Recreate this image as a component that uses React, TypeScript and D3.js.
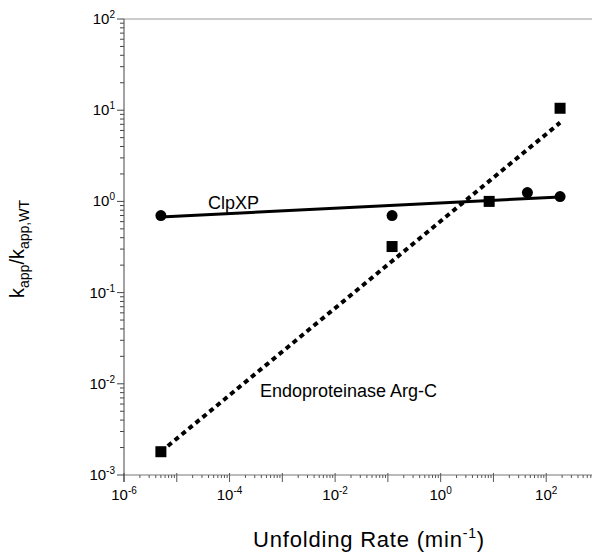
import React from "react";
import * as d3 from "d3";

const WIDTH = 592;
const HEIGHT = 552;
const FONT = "'Liberation Sans', Arial, Helvetica, sans-serif";

// measured data
const clpxpRate = [5e-6, 0.12, 44, 183];
const clpxpRel = [0.7, 0.7, 1.25, 1.13];
const argcRate = [5e-6, 0.12, 8.3, 183];
const argcRel = [1.8e-3, 0.32, 1.0, 10.5];

// fitted lines (end points)
const clpxpFitRate = [5e-6, 183];
const clpxpFitRel = [0.675, 1.12];
const argcFitRate = [5e-6, 183];
const argcFitRel = [1.8e-3, 7.3];

const xTickExps = [-6, -4, -2, 0, 2];
const yTickExps = [-3, -2, -1, 0, 1, 2];

const x = d3.scaleLog().domain([1e-6, 1e3]).range([124, 599]);
const y = d3.scaleLog().domain([1e-3, 1e2]).range([475, 19]);

const isDecade = (v: number) => Math.abs(Math.log10(v) - Math.round(Math.log10(v))) < 1e-9;

const Pow10 = ({ exp }: { exp: number }) => (
  <>
    <tspan>10</tspan>
    <tspan fontSize={10} dy={-6}>
      {exp < 0 ? `-${-exp}` : exp}
    </tspan>
  </>
);

const App = () => {
  const line = d3
    .line<[number, number]>()
    .x((d) => x(d[0]))
    .y((d) => y(d[1]));

  const clpxpFit = clpxpFitRate.map((r, i) => [r, clpxpFitRel[i]] as [number, number]);
  const argcFit = argcFitRate.map((r, i) => [r, argcFitRel[i]] as [number, number]);

  const xTicks = x.ticks();
  const yTicks = y.ticks();
  const [x0] = x.range();
  const [y0, y1] = y.range();

  return (
    <svg
      width={WIDTH}
      height={HEIGHT}
      style={{ position: "absolute", left: 0, top: 0, background: "#fff" }}
      fontFamily={FONT}
    >
      {/* top frame line */}
      <line x1={x0} x2={WIDTH} y1={y1} y2={y1} stroke="#999" strokeWidth={1} />

      {/* x axis */}
      <g>
        <line x1={x0} x2={WIDTH} y1={y0} y2={y0} stroke="#777" strokeWidth={1} />
        {xTicks.map((t, i) => (
          <line
            key={i}
            x1={x(t)}
            x2={x(t)}
            y1={isDecade(t) ? y0 - 2 : y0}
            y2={isDecade(t) ? y0 + 7 : y0 + 3}
            stroke="#555"
            strokeWidth={1}
          />
        ))}
        {xTickExps.map((e) => (
          <text key={e} x={x(Math.pow(10, e))} y={500} fontSize={15} textAnchor="middle" fill="#000">
            <Pow10 exp={e} />
          </text>
        ))}
      </g>

      {/* y axis */}
      <g>
        <line x1={x0} x2={x0} y1={y0 + 7} y2={y1} stroke="#444" strokeWidth={1} />
        {yTicks.map((t, i) => (
          <line
            key={i}
            x1={isDecade(t) ? x0 - 7 : x0 - 4}
            x2={x0}
            y1={y(t)}
            y2={y(t)}
            stroke="#444"
            strokeWidth={1}
          />
        ))}
        {yTickExps.map((e) => (
          <text key={e} x={115} y={y(Math.pow(10, e)) + 5} fontSize={15} textAnchor="end" fill="#000">
            <Pow10 exp={e} />
          </text>
        ))}
      </g>

      {/* fit lines */}
      <path d={line(clpxpFit) || ""} fill="none" stroke="#000" strokeWidth={3} />
      <path d={line(argcFit) || ""} fill="none" stroke="#000" strokeWidth={4} strokeDasharray="5 4" />

      {/* points */}
      {clpxpRate.map((r, i) => (
        <circle key={`c${i}`} cx={x(r)} cy={y(clpxpRel[i])} r={5.5} fill="#000" />
      ))}
      {argcRate.map((r, i) => (
        <rect key={`s${i}`} x={x(r) - 5.5} y={y(argcRel[i]) - 5.5} width={11} height={11} fill="#000" />
      ))}

      {/* series labels */}
      <text x={208} y={209} fontSize={18} fill="#000">
        ClpXP
      </text>
      <text x={260} y={397} fontSize={18} fill="#000">
        Endoproteinase Arg-C
      </text>

      {/* axis titles */}
      <text x={369} y={547} fontSize={22} textAnchor="middle" letterSpacing={0.8} fill="#000">
        Unfolding Rate (min
        <tspan fontSize={14} dy={-9}>-1</tspan>
        <tspan dy={9}>)</tspan>
      </text>
      <text transform="translate(24,249) rotate(-90)" fontSize={20} textAnchor="middle" fill="#000">
        k
        <tspan fontSize={14} dy={5}>app</tspan>
        <tspan dy={-5}>/k</tspan>
        <tspan fontSize={14} dy={5}>app,WT</tspan>
      </text>
    </svg>
  );
};

export default App;
